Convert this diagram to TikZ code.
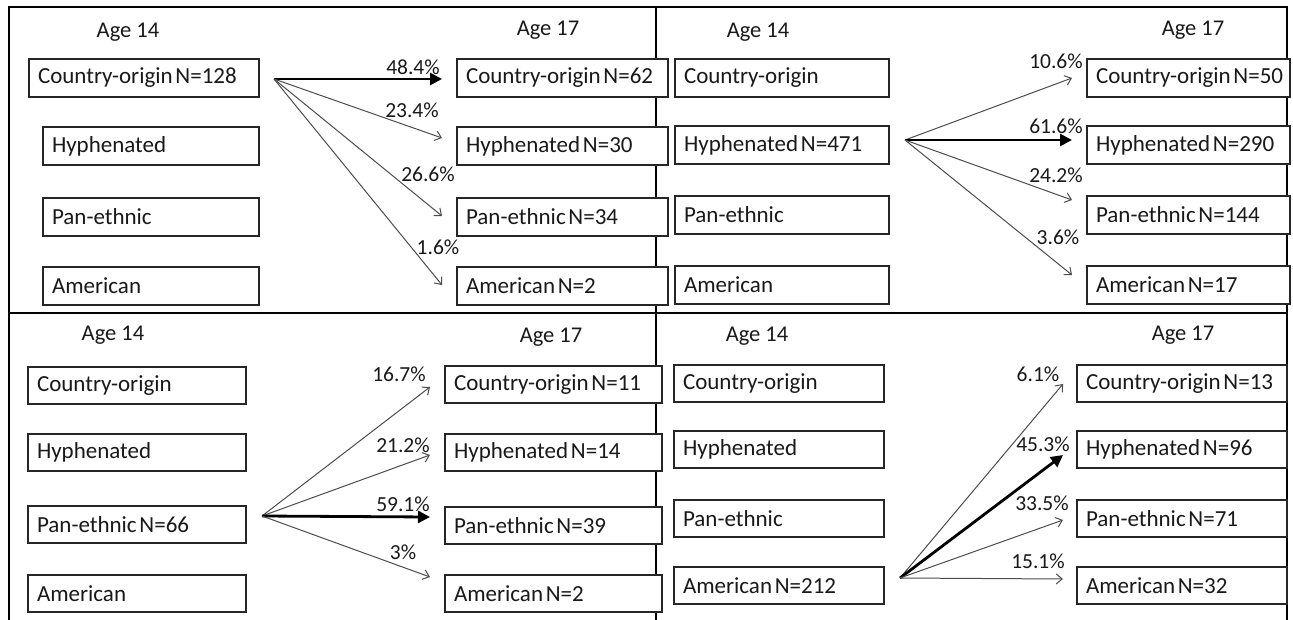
\documentclass[tikz,border=0pt]{standalone}
\usepackage{fontspec}
\setmainfont{Carlito}
\usetikzlibrary{arrows.meta}
\begin{document}
\begin{tikzpicture}[x=1pt,y=-1pt,
  frame/.style={line width=2pt, black},
  box/.style={draw=black!85, line width=1.8pt, fill=white, anchor=north west,
    outer sep=0pt, inner xsep=9pt, inner ysep=0pt, minimum height=38pt,
    text width=#1, align=left, text=black!90,
    font=\fontsize{23}{27}\selectfont,
    execute at begin node={\spaceskip=0.12em\relax\hbox\bgroup},
    execute at end node={\egroup}},
  age/.style={font=\fontsize{22.5}{26}\selectfont, text=black!90},
  pct/.style={font=\fontsize{21.5}{24}\selectfont, text=black!90, inner sep=0pt},
  flow/.style={draw=black!70, line width=1pt, -{Straight Barb[length=6pt,width=10pt]}},
  major/.style={draw=black, line width=2.8pt, -{Triangle[length=12pt,width=12pt]}}
]
\useasboundingbox (0,0) rectangle (1293,620);

% panel frame
\draw[frame] (9,620) -- (9,7) -- (1287,7) -- (1287,620);
\draw[frame] (9,313) -- (1287,313);
\draw[frame] (656,7) -- (656,620);

% ---------- upper left: country-origin at 14 ----------
\node[age] (a14) at (128,32) {Age 14};
\node[age] (a17) at (548,30) {Age 17};
\node[box=212pt] (aC) at (29,59) {Country-origin N=128};
\node[box=198pt] (aH) at (43,127) {Hyphenated};
\node[box=198pt] (aP) at (43,198) {Pan-ethnic};
\node[box=198pt] (aA) at (43,267) {American};
\node[box=193pt] (aC2) at (457,59) {Country-origin N=62};
\node[box=193pt] (aH2) at (457,127) {Hyphenated N=30};
\node[box=193pt] (aP2) at (457,198) {Pan-ethnic N=34};
\node[box=193pt] (aA2) at (457,267) {American N=2};
\coordinate (aF) at (274,79);
\coordinate (aTC) at (442,79);
\coordinate (aTH) at (442,138);
\coordinate (aTP) at (442,216);
\coordinate (aTA) at (442,285);
\draw[major] (aF) -- (aTC);
\draw[flow] (aF) -- (aTH);
\draw[flow] (aF) -- (aTP);
\draw[flow] (aF) -- (aTA);
\node[pct] (aLC) at (413,67) {48.4\%};
\node[pct] (aLH) at (412,110) {23.4\%};
\node[pct] (aLP) at (428,174) {26.6\%};
\node[pct] (aLA) at (438,247) {1.6\%};

% ---------- upper right: hyphenated at 14 ----------
\node[age] (b14) at (758,32) {Age 14};
\node[age] (b17) at (1193,30) {Age 17};
\node[box=196pt] (bC) at (675,59) {Country-origin};
\node[box=196pt] (bH) at (675,126) {Hyphenated N=471};
\node[box=196pt] (bP) at (675,196) {Pan-ethnic};
\node[box=196pt] (bA) at (675,266) {American};
\node[box=185pt] (bC2) at (1087,59) {Country-origin N=50};
\node[box=185pt] (bH2) at (1087,126) {Hyphenated N=290};
\node[box=185pt] (bP2) at (1087,196) {Pan-ethnic N=144};
\node[box=185pt] (bA2) at (1087,266) {American N=17};
\coordinate (bF) at (905,140);
\coordinate (bTC) at (1072,78);
\coordinate (bTH) at (1072,140);
\coordinate (bTP) at (1072,200);
\coordinate (bTA) at (1072,275);
\draw[flow] (bF) -- (bTC);
\draw[major] (bF) -- (bTH);
\draw[flow] (bF) -- (bTP);
\draw[flow] (bF) -- (bTA);
\node[pct] (bLC) at (1056,61) {10.6\%};
\node[pct] (bLH) at (1056,126) {61.6\%};
\node[pct] (bLP) at (1056,175) {24.2\%};
\node[pct] (bLA) at (1058,237) {3.6\%};

% ---------- lower left: pan-ethnic at 14 ----------
\node[age] (c14) at (113,335) {Age 14};
\node[age] (c17) at (551,337) {Age 17};
\node[box=200pt,minimum height=37pt] (cC) at (28,367) {Country-origin};
\node[box=200pt,minimum height=37pt] (cH) at (28,434) {Hyphenated};
\node[box=200pt,minimum height=37pt] (cP) at (28,506) {Pan-ethnic N=66};
\node[box=200pt,minimum height=37pt] (cA) at (28,575) {American};
\node[box=199pt,minimum height=37pt] (cC2) at (445,366) {Country-origin N=11};
\node[box=199pt,minimum height=37pt] (cH2) at (445,434) {Hyphenated N=14};
\node[box=199pt,minimum height=37pt] (cP2) at (445,507) {Pan-ethnic N=39};
\node[box=199pt,minimum height=37pt] (cA2) at (445,575) {American N=2};
\coordinate (cF) at (262,516);
\coordinate (cTC) at (430,387);
\coordinate (cTH) at (430,455);
\coordinate (cTP) at (430,517);
\coordinate (cTA) at (430,577);
\draw[flow] (cF) -- (cTC);
\draw[flow] (cF) -- (cTH);
\draw[major] (cF) -- (cTP);
\draw[flow] (cF) -- (cTA);
\node[pct] (cLC) at (399,374) {16.7\%};
\node[pct] (cLH) at (403,445) {21.2\%};
\node[pct] (cLP) at (403,504) {59.1\%};
\node[pct] (cLA) at (403,552) {3\%};

% ---------- lower right: american at 14 ----------
\node[age] (d14) at (757,336) {Age 14};
\node[age] (d17) at (1183,335) {Age 17};
\node[box=192pt,minimum height=37pt] (dC) at (674,365) {Country-origin};
\node[box=192pt,minimum height=37pt] (dH) at (674,431) {Hyphenated};
\node[box=192pt,minimum height=37pt] (dP) at (674,500) {Pan-ethnic};
\node[box=192pt,minimum height=37pt] (dA) at (674,567) {American N=212};
\node[box=192pt,minimum height=37pt] (dC2) at (1077,365) {Country-origin N=13};
\node[box=192pt,minimum height=37pt] (dH2) at (1077,431) {Hyphenated N=96};
\node[box=192pt,minimum height=37pt] (dP2) at (1077,500) {Pan-ethnic N=71};
\node[box=192pt,minimum height=37pt] (dA2) at (1077,567) {American N=32};
\coordinate (dF) at (900,578);
\coordinate (dTC) at (1063,384);
\coordinate (dTH) at (1063,455);
\coordinate (dTP) at (1063,520);
\coordinate (dTA) at (1063,579);
\draw[flow] (dF) -- (dTC);
\draw[major] (dF) -- (dTH);
\draw[flow] (dF) -- (dTP);
\draw[flow] (dF) -- (dTA);
\node[pct] (dLC) at (1038,374) {6.1\%};
\node[pct] (dLH) at (1043,444) {45.3\%};
\node[pct] (dLP) at (1042,503) {33.5\%};
\node[pct] (dLA) at (1038,561) {15.1\%};
\end{tikzpicture}
\end{document}
